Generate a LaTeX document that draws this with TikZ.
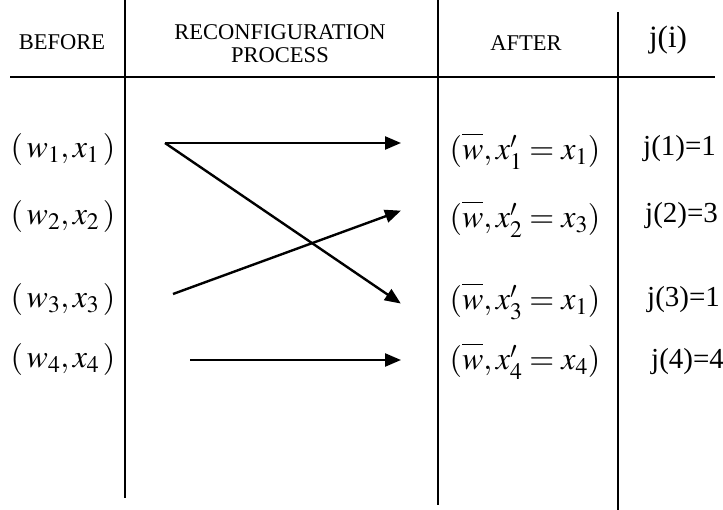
\documentclass[tikz,border=0pt]{standalone}
\usepackage{mathptmx}
\usepackage{fontspec}
\setmainfont{Liberation Serif}
\usetikzlibrary{arrows.meta}
\tikzset{
  rule/.style={line width=1.6pt},
  head/.style={font=\fontsize{22.5}{24}\selectfont, align=center, inner sep=0pt},
  jlab/.style={font=\fontsize{29}{32}\selectfont, inner sep=0pt, anchor=west},
  mlab/.style={font=\fontsize{32}{36}\selectfont, inner sep=0pt},
  conn/.style={line width=2.4pt, -{Triangle[length=16pt,width=13pt]}, shorten >=-1pt}
}
\newcommand{\wb}{\overline{\vphantom{T}w}}
\begin{document}
\begin{tikzpicture}[x=1pt,y=-1pt]
\useasboundingbox (0,0) rectangle (723,510);
% grid lines
\draw[rule] (10,77) -- (715,77);
\draw[rule] (125,0) -- (125,498);
\draw[rule] (438,0) -- (438,505);
\draw[rule] (618,12) -- (618,510);
% headers
\node[head] (hb) at (62,42) {BEFORE};
\node[head] (hr) at (280,44) {RECONFIGURATION\\[-1pt]PROCESS};
\node[head] (ha) at (526,43) {AFTER};
\node[jlab, anchor=center, font=\fontsize{31}{34}\selectfont] (hj) at (668,40) {j(i)};
% before column
\node[mlab] (b1) at (63,150) {$(\,w_1, x_1\,)$};
\node[mlab] (b2) at (63,217) {$(\,w_2, x_2\,)$};
\node[mlab] (b3) at (63,300) {$(\,w_3, x_3\,)$};
\node[mlab] (b4) at (63,360) {$(\,w_4, x_4\,)$};
% after column
\node[mlab] (a1) at (525,151) {$(\wb, x_1' = x_1)$};
\node[mlab] (a2) at (525,219) {$(\wb, x_2' = x_3)$};
\node[mlab] (a3) at (525,301) {$(\wb, x_3' = x_1)$};
\node[mlab] (a4) at (525,361) {$(\wb, x_4' = x_4)$};
% j column
\node[jlab] (j1) at (643,149) {j(1)=1};
\node[jlab] (j2) at (645,216) {j(2)=3};
\node[jlab] (j3) at (647,300) {j(3)=1};
\node[jlab] (j4) at (651,362) {j(4)=4};
% arrow end points
\coordinate (s1) at (165,143);
\coordinate (s3) at (173,294);
\coordinate (s4) at (190,360);
\coordinate (t1) at (400,143);
\coordinate (t2) at (400,211);
\coordinate (t3) at (400,303);
\coordinate (t4) at (400,360);
\draw[conn] (s1) -- (t1);
\draw[conn] (s1) -- (t3);
\draw[conn] (s3) -- (t2);
\draw[conn] (s4) -- (t4);
\end{tikzpicture}
\end{document}
